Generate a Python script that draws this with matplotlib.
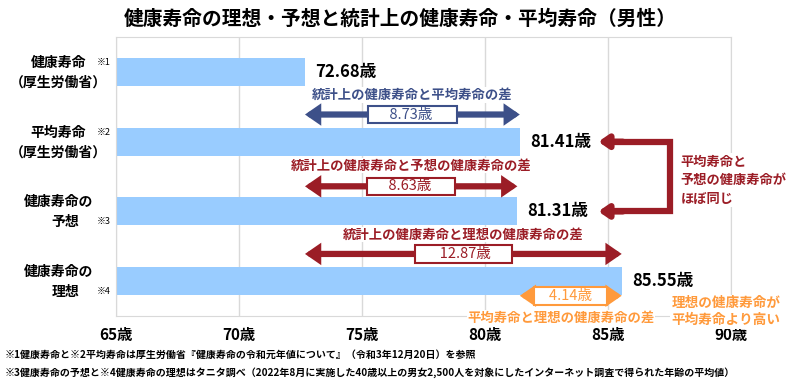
import matplotlib
matplotlib.use("Agg")
import matplotlib.pyplot as plt
import matplotlib.transforms as mtransforms

plt.rcParams['font.family'] = ['Noto Sans CJK JP', 'DejaVu Sans']

# data
categories = ['健康寿命\n（厚生労働省）', '平均寿命\n（厚生労働省）', '健康寿命の\n予想', '健康寿命の\n理想']
notes = ['※1', '※2', '※3', '※4']
note_line = [0, 0, 1, 1]
values = [72.68, 81.41, 81.31, 85.55]
xticks = [65, 70, 75, 80, 85, 90]

title = '健康寿命の理想・予想と統計上の健康寿命・平均寿命（男性）'
footnotes = ['※1健康寿命と※2平均寿命は厚生労働省『健康寿命の令和元年値について』（令和3年12月20日）を参照',
             '※3健康寿命の予想と※4健康寿命の理想はタニタ調べ（2022年8月に実施した40歳以上の男女2,500人を対象にしたインターネット調査で得られた年齢の平均値）']

NAVY = '#3D5089'
RED = '#9B1D26'
ORANGE = '#FF9A3C'
BAR = '#99CCFF'

fig = plt.figure(figsize=(8, 3.83), dpi=100)
ax = fig.add_axes([0.145, 0.175, 0.769, 0.728])

ypos = list(range(len(values)))
ax.barh(ypos, [v - xticks[0] for v in values], left=xticks[0], height=0.4, color=BAR, zorder=2)
ax.set_xlim(xticks[0], xticks[-1])
ax.set_ylim(3.5, -0.5)
ax.set_xticks(xticks)
ax.set_xticklabels([f'{t}歳' for t in xticks], fontsize=11, fontweight='bold')
ax.tick_params(axis='x', length=0, pad=8)
ax.set_yticks([])
ax.grid(axis='x', color='#D9D9D9', lw=1, zorder=0)
for s in ax.spines.values():
    s.set_color('#D9D9D9')

# category labels
trans = mtransforms.blended_transform_factory(fig.transFigure, ax.transData)
for i, (cat, note) in enumerate(zip(categories, notes)):
    l1, l2 = cat.split('\n')
    ax.text(0.073, i - 0.13, l1, transform=trans, ha='center', va='center', fontsize=10, fontweight='bold')
    ax.text(0.073 if i < 2 else 0.082, i + 0.15, l2, transform=trans, ha='center', va='center', fontsize=10,
            fontweight='bold')
    ax.text(0.121, i + (0.15 if note_line[i] else -0.13), note, transform=trans, ha='left', va='center',
            fontsize=6.5)

# value labels
for i, v in enumerate(values):
    ax.text(v + 0.42, i, f'{v:.2f}歳', ha='left', va='center', fontsize=12, fontweight='bold', clip_on=False)


def double_arrow(x0, x1, y, color, label, title_txt, title_y, boxw, title_dx=0.0):
    ax.annotate('', xy=(x0, y), xytext=(x1, y),
                arrowprops=dict(arrowstyle='<|-|>,head_length=0.55,head_width=0.38', lw=4.5,
                                color=color, shrinkA=0, shrinkB=0, joinstyle='miter'), zorder=4)
    ax.text((x0 + x1) / 2, y, label.center(boxw), ha='center', va='center', fontsize=10.5, color=color, zorder=5,
            bbox=dict(boxstyle='square,pad=0.12', fc='white', ec=color, lw=1.5))
    ax.text((x0 + x1) / 2 + title_dx, title_y, title_txt, ha='center', va='center', fontsize=9.6,
            fontweight='bold', color=color, clip_on=False, zorder=5,
            bbox=dict(boxstyle='square,pad=0.05', fc='white', ec='none'))


diff_stat = values[1] - values[0]
diff_pred = values[2] - values[0]
diff_ideal = values[3] - values[0]
diff_ideal_avg = values[3] - values[1]

double_arrow(values[0], values[1], 0.61, NAVY, f'{diff_stat:.2f}歳', '統計上の健康寿命と平均寿命の差', 0.33, 18)
double_arrow(values[0], values[2], 1.64, RED, f'{diff_pred:.2f}歳', '統計上の健康寿命と予想の健康寿命の差', 1.34, 18)
double_arrow(values[0], values[3], 2.61, RED, f'{diff_ideal:.2f}歳', '統計上の健康寿命と理想の健康寿命の差', 2.33, 19)
double_arrow(values[1], values[3], 3.21, ORANGE, f'{diff_ideal_avg:.2f}歳', '平均寿命と理想の健康寿命の差', 3.52, 13,
             title_dx=-0.4)

# bracket between 平均寿命 and 健康寿命の予想
bx, tipx = 87.5, 84.6
ax.plot([tipx + 0.6, bx, bx, tipx + 0.6], [1, 1, 2, 2], color=RED, lw=4.5, solid_joinstyle='miter', zorder=4, clip_on=False)
for yy in (1, 2):
    ax.annotate('', xy=(tipx, yy), xytext=(tipx + 1.0, yy),
                arrowprops=dict(arrowstyle='-|>,head_length=0.55,head_width=0.38', lw=4.5,
                                color=RED, shrinkA=0, shrinkB=0), zorder=4)
ax.text(bx + 0.45, 1.55, '平均寿命と\n予想の健康寿命が\nほぼ同じ', ha='left', va='center', fontsize=9.5,
        fontweight='bold', color=RED, linespacing=1.4, zorder=5,
        bbox=dict(boxstyle='square,pad=0.1', fc='white', ec='none'))
ax.text(89.8, 3.44, '理想の健康寿命が\n平均寿命より高い', ha='center', va='center', fontsize=9.8,
        fontweight='bold', color=ORANGE, linespacing=1.25, zorder=5, clip_on=False,
        bbox=dict(boxstyle='square,pad=0.1', fc='white', ec='none'))

fig.text(0.5, 0.950, title, ha='center', va='center', fontsize=14.2, fontweight='bold')
fig.text(0.006, 0.073, footnotes[0], ha='left', va='center', fontsize=7.2, fontweight='bold')
fig.text(0.006, 0.028, footnotes[1], ha='left', va='center', fontsize=7.2, fontweight='bold')

fig.savefig('out.png', dpi=100)
